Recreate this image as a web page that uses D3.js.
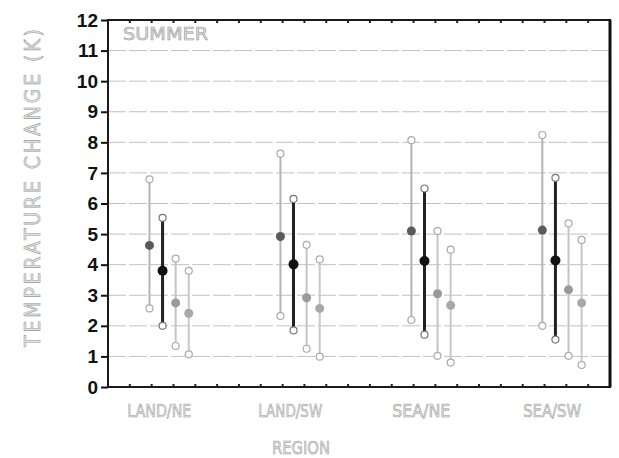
<!DOCTYPE html>
<html>
<head>
<meta charset="utf-8">
<script src="https://cdn.jsdelivr.net/npm/d3@7"></script>
<style>
  body { margin: 0; background: #fff; }
  svg { display: block; }
  .outline { fill: #e4e4e4; stroke: #9a9a9a; stroke-width: 0.55px; font-family: "Liberation Sans Narrow", "DejaVu Sans Condensed", sans-serif; }
</style>
</head>
<body>
<svg id="chart"></svg>
<script>
// regions and their four series (mean, upper, lower)
var regions = ["LAND/NE", "LAND/SW", "SEA/NE", "SEA/SW"];
var regionPos = [1.9, 7.9, 13.9, 19.9];
var seriesOffset = [0, 0.6, 1.2, 1.8];

var means = [
    [4.63, 3.80, 2.75, 2.41],
    [4.92, 4.01, 2.92, 2.57],
    [5.10, 4.12, 3.05, 2.67],
    [5.13, 4.14, 3.18, 2.75]
];
var highs = [
    [6.79, 5.53, 4.20, 3.80],
    [7.63, 6.15, 4.65, 4.17],
    [8.07, 6.49, 5.10, 4.49],
    [8.24, 6.84, 5.35, 4.81]
];
var lows = [
    [2.57, 2.00, 1.34, 1.07],
    [2.32, 1.85, 1.25, 0.99],
    [2.19, 1.71, 1.02, 0.80],
    [2.00, 1.55, 1.02, 0.72]
];
var yTicks = [0, 1, 2, 3, 4, 5, 6, 7, 8, 9, 10, 11, 12];

// look of each series
var lineColor = ["#b4b4b4", "#222222", "#c4c4c4", "#c8c8c8"];
var lineWidth = [2, 3, 2, 2];
var dotColor = ["#5a5a5a", "#111111", "#9a9a9a", "#a8a8a8"];

var W = 619, H = 458;
var margin = {top: 20, right: 9, bottom: 71, left: 108},
    width = W - margin.left - margin.right,
    height = H - margin.top - margin.bottom;

var svg = d3.select("#chart").attr("width", W).attr("height", H);
var g = svg.append("g").attr("transform", "translate(" + margin.left + "," + margin.top + ")");

var x = d3.scaleLinear().domain([0, 23]).range([0, width]);
var y = d3.scaleLinear().domain([0, 12]).range([height, 0]);

// dashed grid
g.selectAll(".grid")
    .data(yTicks.filter(d => d > 0 && d < 12))
    .enter().append("line")
    .attr("x1", 0).attr("x2", width)
    .attr("y1", d => y(d)).attr("y2", d => y(d))
    .attr("stroke", "#c2c2c2")
    .attr("stroke-width", 1)
    .attr("stroke-dasharray", "18,3");

// y axis with bold labels
var yAxis = d3.axisLeft(y).tickValues(yTicks).tickSize(7).tickPadding(3).tickFormat(d3.format("d"));
var ya = g.append("g").call(yAxis);
ya.select(".domain").remove();
ya.selectAll("line").attr("stroke", "#111").attr("stroke-width", 2);
ya.selectAll("text")
    .style("font-family", "'Liberation Sans', Arial, sans-serif")
    .style("font-weight", "bold")
    .style("font-size", "19px")
    .attr("fill", "#111");

// minor ticks on top and bottom edges
var minor = d3.range(1, 23);
g.selectAll(".tb")
    .data(minor)
    .enter().append("line")
    .attr("x1", d => x(d)).attr("x2", d => x(d))
    .attr("y1", height).attr("y2", height - 3)
    .attr("stroke", "#222").attr("stroke-width", 2);
g.selectAll(".tt")
    .data(minor)
    .enter().append("line")
    .attr("x1", d => x(d)).attr("x2", d => x(d))
    .attr("y1", 0).attr("y2", 3)
    .attr("stroke", "#222").attr("stroke-width", 2);

// frame
g.append("rect")
    .attr("width", width).attr("height", height)
    .attr("fill", "none").attr("stroke", "#1a1a1a").attr("stroke-width", 2);
g.append("line")
    .attr("x1", width).attr("x2", width).attr("y1", 0).attr("y2", height)
    .attr("stroke", "#111").attr("stroke-width", 3);

// error bars
var bars = [];
regions.forEach((r, i) => {
    seriesOffset.forEach((o, j) => {
        bars.push({s: j, xv: regionPos[i] + o, m: means[i][j], hi: highs[i][j], lo: lows[i][j]});
    });
});

var bar = g.selectAll(".bar").data(bars).enter().append("g");

bar.append("line")
    .attr("x1", d => x(d.xv)).attr("x2", d => x(d.xv))
    .attr("y1", d => y(d.hi)).attr("y2", d => y(d.lo))
    .attr("stroke", d => lineColor[d.s])
    .attr("stroke-width", d => lineWidth[d.s]);

["hi", "lo"].forEach(k => {
    bar.append("circle")
        .attr("cx", d => x(d.xv))
        .attr("cy", d => y(d[k]))
        .attr("r", 3.5)
        .attr("fill", "#fff")
        .attr("stroke", d => d.s == 1 ? "#777" : "#aaa")
        .attr("stroke-width", 1.2);
});

bar.append("circle")
    .attr("cx", d => x(d.xv))
    .attr("cy", d => y(d.m))
    .attr("r", d => d.s == 1 ? 5 : 4.5)
    .attr("fill", d => dotColor[d.s]);

// texts
g.selectAll(".xl")
    .data(regions)
    .enter().append("text")
    .attr("class", "outline")
    .attr("x", (d, i) => x(regionPos[i] + 0.45))
    .attr("y", height + 30)
    .attr("text-anchor", "middle")
    .style("font-size", "18px")
    .attr("textLength", d => d.length == 7 ? 64 : 58)
    .attr("lengthAdjust", "spacingAndGlyphs")
    .text(d => d);

svg.append("text")
    .attr("class", "outline")
    .attr("x", 301).attr("y", 454)
    .attr("text-anchor", "middle")
    .style("font-size", "18px")
    .attr("textLength", 58)
    .attr("lengthAdjust", "spacingAndGlyphs")
    .text("REGION");

svg.append("text")
    .attr("class", "outline")
    .attr("x", 123).attr("y", 40)
    .style("font-size", "17px")
    .attr("textLength", 85)
    .attr("lengthAdjust", "spacingAndGlyphs")
    .text("SUMMER");

svg.append("text")
    .attr("class", "outline")
    .attr("transform", "translate(40,188) rotate(-90)")
    .attr("text-anchor", "middle")
    .style("font-size", "21px")
    .attr("textLength", 318)
    .attr("lengthAdjust", "spacing")
    .text("TEMPERATURE  CHANGE  (K)");
</script>
</body>
</html>
